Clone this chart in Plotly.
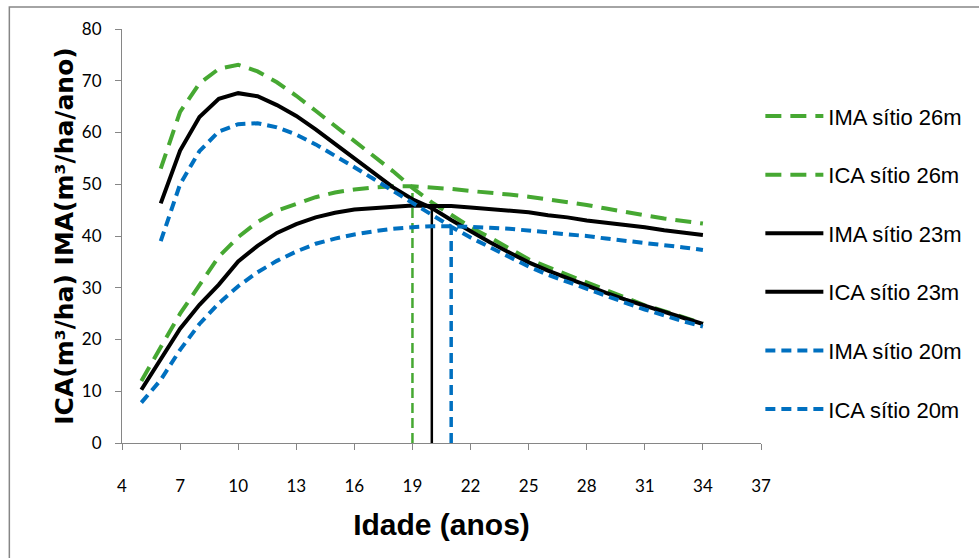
import plotly.graph_objects as go

ages_ima = list(range(5, 35))
ages_ica = list(range(6, 35))

ima_26 = [12.0, 18.5, 25.0, 30.5, 36.0, 39.8, 42.7, 44.9, 46.3, 47.5, 48.4, 49.0, 49.4, 49.6, 49.6,
          49.4, 49.1, 48.7, 48.4, 48.0, 47.6, 47.1, 46.6, 46.0, 45.3, 44.6, 44.0, 43.4, 42.9, 42.4]
ica_26 = [53.0, 64.0, 69.5, 72.3, 73.1, 71.8, 69.7, 67.1, 64.2, 61.3, 58.5, 55.5, 52.5, 49.3, 46.5,
          44.1, 41.7, 39.7, 37.7, 35.5, 34.0, 32.5, 31.0, 29.4, 28.0, 26.6, 25.5, 24.3, 23.1]
ima_23 = [10.3, 16.3, 22.1, 26.7, 30.6, 35.1, 38.1, 40.6, 42.3, 43.6, 44.5, 45.1, 45.4, 45.7, 45.9,
          45.8, 45.8, 45.5, 45.2, 44.9, 44.6, 44.0, 43.6, 43.0, 42.6, 42.1, 41.7, 41.1, 40.6, 40.2]
ica_23 = [46.3, 56.5, 63.0, 66.5, 67.6, 67.0, 65.3, 63.2, 60.6, 57.8, 55.0, 52.1, 49.4, 47.1, 45.4,
          43.1, 40.9, 38.8, 36.8, 34.9, 33.3, 31.8, 30.4, 29.0, 27.7, 26.5, 25.3, 24.1, 23.0]
ima_20 = [7.8, 12.2, 18.0, 23.0, 27.0, 30.3, 33.0, 35.2, 37.0, 38.5, 39.5, 40.3, 40.9, 41.4, 41.7,
          41.9, 41.9, 41.8, 41.6, 41.4, 41.1, 40.7, 40.3, 40.0, 39.5, 39.1, 38.7, 38.3, 37.8, 37.3]
ica_20 = [39.0, 50.0, 56.4, 60.2, 61.6, 61.8, 61.0, 59.6, 57.7, 55.6, 53.3, 51.0, 48.7, 46.3, 44.0,
          41.8, 39.7, 37.8, 36.0, 34.1, 32.5, 31.1, 29.7, 28.4, 27.1, 25.8, 24.6, 23.5, 22.5]

cut_ages = [19, 20, 21]
cut_values = [49.6, 45.7, 41.9]

x_ticks = list(range(4, 38, 3))
y_ticks = list(range(0, 81, 10))

GREEN = "#46A832"
BLACK = "#000000"
BLUE = "#0070C0"

series = [
    ("IMA sítio 26m", ages_ima, ima_26, GREEN, "16px,9px"),
    ("ICA sítio 26m", ages_ica, ica_26, GREEN, "16px,9px"),
    ("IMA sítio 23m", ages_ima, ima_23, BLACK, "solid"),
    ("ICA sítio 23m", ages_ica, ica_23, BLACK, "solid"),
    ("IMA sítio 20m", ages_ima, ima_20, BLUE, "10px,6px"),
    ("ICA sítio 20m", ages_ica, ica_20, BLUE, "10px,6px"),
]

fig = go.Figure()

cut_styles = [(GREEN, "10px,5px", 2.5), (BLACK, "solid", 2.5), (BLUE, "10px,6px", 3.5)]
for a, v, (c, d, w) in zip(cut_ages, cut_values, cut_styles):
    fig.add_trace(go.Scatter(x=[a, a], y=[0, v], mode="lines", showlegend=False,
                             line=dict(color=c, dash=d, width=w), hoverinfo="skip"))

for i, (name, xs, ys, c, d) in enumerate(series):
    fig.add_trace(go.Scatter(x=xs, y=ys, mode="lines", name=name, legendgroup=f"g{i}",
                             line=dict(color=c, dash=d, width=4)))

fig.update_layout(
    width=979, height=558,
    margin=dict(l=122, r=216, t=29, b=115),
    paper_bgcolor="white", plot_bgcolor="white",
    showlegend=True,
    legend=dict(x=0.999, y=0.84, xanchor="left", yanchor="top",
                font=dict(family="Liberation Sans, Arial, sans-serif", size=22, color="black"),
                tracegroupgap=27, itemwidth=58, bgcolor="rgba(0,0,0,0)"),
    xaxis=dict(range=[4, 37], tickmode="array", tickvals=x_ticks,
               showgrid=False, zeroline=False, showline=True, linecolor="#868686", linewidth=1,
               ticks="outside", ticklen=6, tickcolor="#868686", ticklabelstandoff=22,
               tickfont=dict(family="Lato, sans-serif", size=17, color="black"),
               title=dict(text="Idade (anos)", standoff=18,
                          font=dict(family="Liberation Sans, Arial, sans-serif", size=30, color="black", weight="bold"))),
    yaxis=dict(range=[0, 80], tickmode="array", tickvals=y_ticks,
               showgrid=False, zeroline=False, showline=True, linecolor="#868686", linewidth=1,
               ticks="outside", ticklen=6, tickcolor="#868686", ticklabelstandoff=10,
               tickfont=dict(family="Lato, sans-serif", size=17, color="black"),
               title=dict(text="ICA(m³/ha) IMA(m³/ha/ano)", standoff=1,
                          font=dict(family="DejaVu Sans, sans-serif", size=25, color="black", weight="bold"))),
    shapes=[dict(type="rect", xref="paper", yref="paper", x0=-0.1763, x1=1.4, y0=-0.4, y1=1.053,
                 line=dict(color="#868686", width=1.5), fillcolor="rgba(0,0,0,0)", layer="below")],
)

fig.write_html("out.html")
